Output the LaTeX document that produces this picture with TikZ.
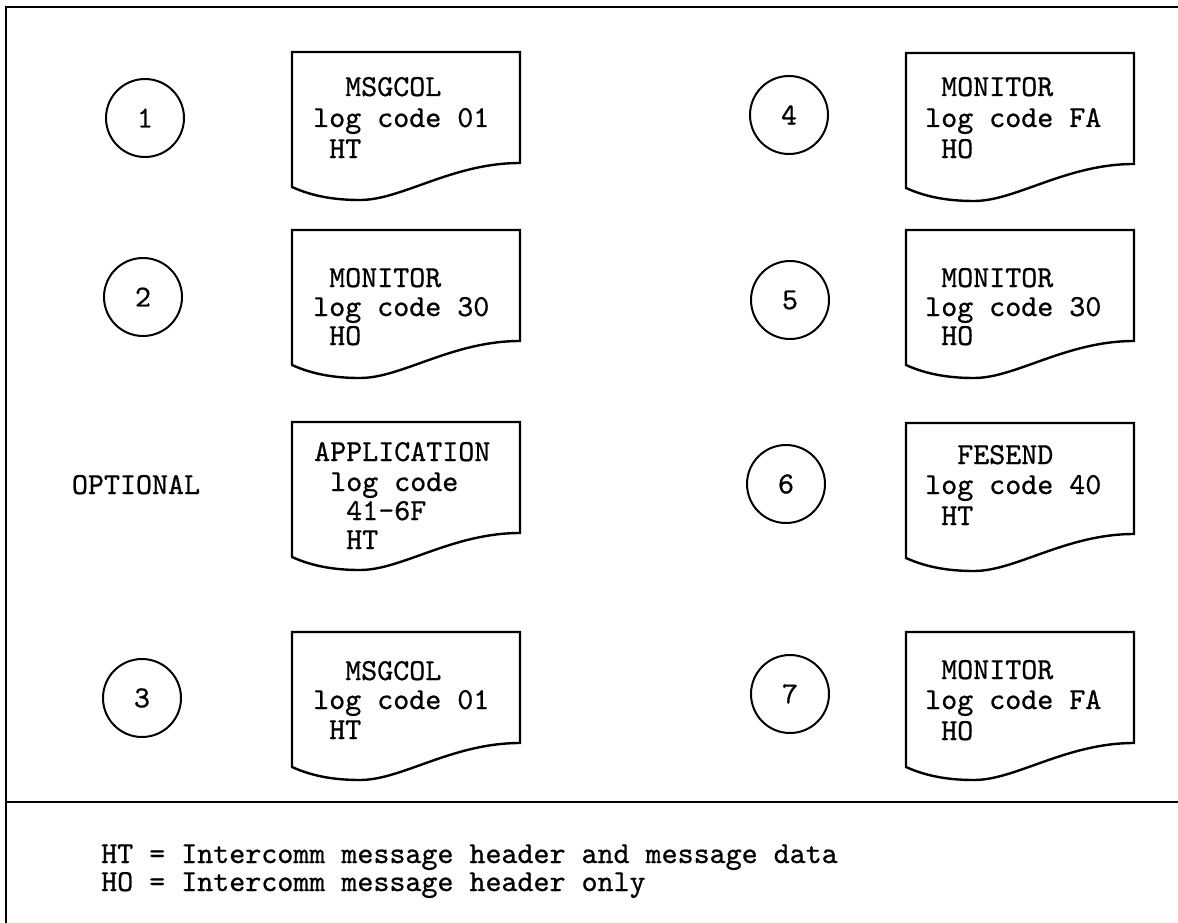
\documentclass[tikz,border=0pt]{standalone}
\usepackage{fontspec}
\newfontfamily\typew{lmmono10-regular}[Extension=.otf, FakeBold=0.7]
\newcommand\docpath[2]{%
  \begin{scope}[shift={(#1,#2)}]
    \draw[docline] (0,0) -- (228,0) -- (228,111)
      .. controls (160,111) and (110,148) .. (68,148)
      .. controls (45,148) and (22,145) .. (0,135) -- cycle;
  \end{scope}}
\begin{document}
\begin{tikzpicture}[x=1pt,y=-1pt,
  frame/.style={line width=2.4pt},
  docline/.style={line width=2.4pt, line join=miter},
  num/.style={circle, draw, line width=2pt, minimum size=78pt, inner sep=0pt,
    font=\fontsize{30.5}{30.5}\selectfont\typew},
  txt/.style={anchor=base west, inner sep=0pt, font=\fontsize{30.5}{30.5}\selectfont\typew}]
\useasboundingbox (0,0) rectangle (1178,923);
% frame
\draw[frame] (1178,7) -- (6,7) -- (6,923);
\draw[frame] (6,802) -- (1178,802);
% documents
\docpath{292}{52}
\docpath{292}{230}
\docpath{292}{422}
\docpath{292}{632}
\docpath{906}{53}
\docpath{906}{230}
\docpath{906}{423}
\docpath{906}{632}
% circles
\node[num] (c1) at (145,118) {1};
\node[num] (c2) at (143,297) {2};
\node[num] (c3) at (142,698) {3};
\node[num] (c4) at (789,115) {4};
\node[num] (c5) at (790,300) {5};
\node[num] (c6) at (786,484) {6};
\node[num] (c7) at (790,694) {7};
\node[txt, anchor=base] (opt) at (136,494) {OPTIONAL};
% left texts
\node[txt] (d1a) at (313,96) {\ \ MSGCOL};
\node[txt] (d1b) at (313,127) {log code 01};
\node[txt] (d1c) at (313,158) {\ HT};
\node[txt] (d2a) at (313,287) {\ MONITOR};
\node[txt] (d2b) at (313,316) {log code 30};
\node[txt] (d2c) at (313,345) {\ HO};
\node[txt] (dAa) at (314,461) {APPLICATION};
\node[txt] (dAb) at (314,491) {\ log code};
\node[txt] (dAc) at (314,520) {\ \ 41-6F};
\node[txt] (dAd) at (314,549) {\ \ HT};
\node[txt] (d3a) at (313,680) {\ \ MSGCOL};
\node[txt] (d3b) at (313,709) {log code 01};
\node[txt] (d3c) at (313,739) {\ HT};
% right texts
\node[txt] (d4a) at (925,96) {\ MONITOR};
\node[txt] (d4b) at (925,127) {log code FA};
\node[txt] (d4c) at (925,158) {\ HO};
\node[txt] (d5a) at (925,287) {\ MONITOR};
\node[txt] (d5b) at (925,316) {log code 30};
\node[txt] (d5c) at (925,345) {\ HO};
\node[txt] (d6a) at (925,464) {\ \ FESEND};
\node[txt] (d6b) at (925,494) {log code 40};
\node[txt] (d6c) at (925,525) {\ HT};
\node[txt] (d7a) at (925,679) {\ MONITOR};
\node[txt] (d7b) at (925,709) {log code FA};
\node[txt] (d7c) at (925,740) {\ HO};
% legend
\node[txt] (ht) at (101,863) {HT = Intercomm message header and message data};
\node[txt] (ho) at (101,891) {HO = Intercomm message header only};
\end{tikzpicture}
\end{document}
